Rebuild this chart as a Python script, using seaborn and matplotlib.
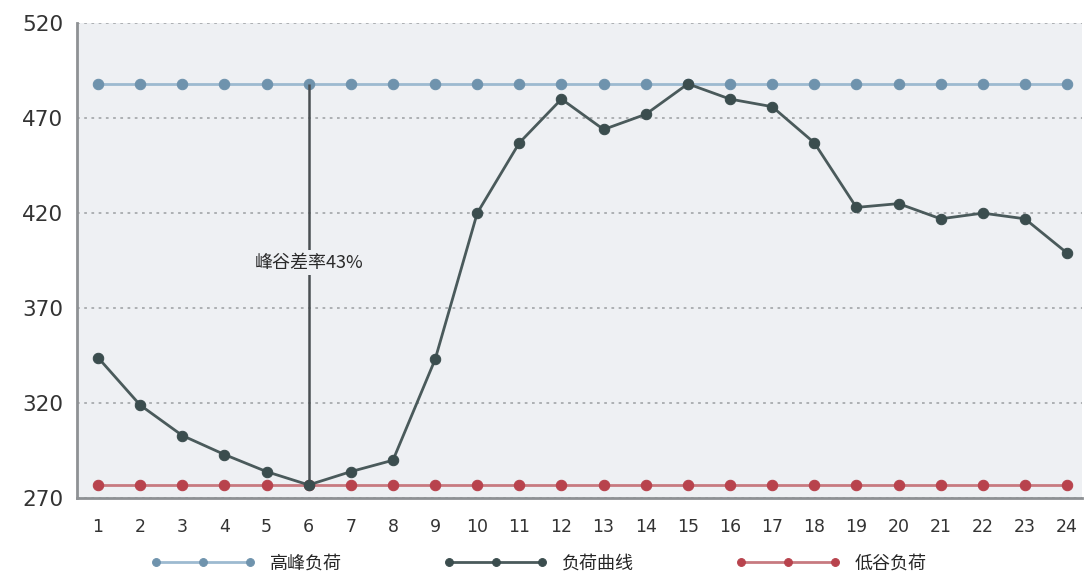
import numpy as np
import pandas as pd
import matplotlib.pyplot as plt
import seaborn as sns

# ============================================================================
# DATA
# ============================================================================
hours = list(range(1, 25))
load_curve = [344, 319, 303, 293, 284, 277, 284, 290, 343, 420, 457, 480,
              464, 472, 488, 480, 476, 457, 423, 425, 417, 420, 417, 399]
peak_load = [488] * 24
valley_load = [277] * 24
series_names = ['高峰负荷', '负荷曲线', '低谷负荷']
y_ticks = [270, 320, 370, 420, 470, 520]
gap_label = '峰谷差率43%'

colors = {'高峰负荷': '#6f93ad', '负荷曲线': '#3b4d4e', '低谷负荷': '#b8434d'}
line_colors = {'高峰负荷': '#9dbad0', '负荷曲线': '#4a5a5b', '低谷负荷': '#c77a80'}

df = pd.DataFrame({
    'hour': hours * 3,
    'value': peak_load + load_curve + valley_load,
    'series': [series_names[0]] * 24 + [series_names[1]] * 24 + [series_names[2]] * 24,
})

# ============================================================================
# PLOT
# ============================================================================
sns.set_style('white')
plt.rcParams['font.family'] = ['Noto Sans CJK SC', 'DejaVu Sans']

fig, ax = plt.subplots(figsize=(10.84, 5.76), dpi=100)
fig.subplots_adjust(left=0.071, right=0.998, top=0.96, bottom=0.135)
ax.set_facecolor('#eef0f3')

for name in series_names:
    sub = df[df['series'] == name]
    sns.lineplot(data=sub, x='hour', y='value', ax=ax, color=line_colors[name],
                 linewidth=2, marker='o', markersize=7.5,
                 markerfacecolor=colors[name], markeredgecolor=colors[name],
                 label=name, zorder=3 if name == '负荷曲线' else 2)

# peak-valley difference marker at the valley hour
i_min = int(np.argmin(load_curve))
x_min = hours[i_min]
ax.vlines(x_min, valley_load[0], peak_load[0], color='#4a4f52', linewidth=1.8, zorder=2)
ax.text(x_min, 394, gap_label, ha='center', va='center', fontsize=13, color='#2a2a2a',
        fontweight='medium',
        bbox=dict(boxstyle='square,pad=0.2', facecolor='#eef0f3', edgecolor='none'),
        zorder=4)

ax.set_xlim(0.5, 24.35)
ax.set_ylim(270, 520)
ax.set_xticks(hours)
ax.set_yticks(y_ticks)
ax.tick_params(axis='x', labelsize=12.5, colors='#333333', length=0, pad=14)
ax.tick_params(axis='y', labelsize=15.5, colors='#333333', length=0, pad=10)
for lab in ax.get_xticklabels() + ax.get_yticklabels():
    lab.set_family('DejaVu Sans')
ax.yaxis.grid(True, linestyle=(0, (1.5, 2.5)), color='#a8abae', linewidth=1.3)
ax.set_xlabel('')
ax.set_ylabel('')

for side in ['top', 'right']:
    ax.spines[side].set_visible(False)
for side in ['left', 'bottom']:
    ax.spines[side].set_color('#8e9194')
    ax.spines[side].set_linewidth(2)

handles, labels = ax.get_legend_handles_labels()
ax.legend_.remove()
fig.legend(handles, labels, loc='center', bbox_to_anchor=(0.497, 0.022), ncol=3, frameon=False,
           fontsize=13, numpoints=3, handlelength=5.8, columnspacing=5.6, handletextpad=0.8,
           markerscale=0.75)

plt.savefig('out.png', dpi=100)
